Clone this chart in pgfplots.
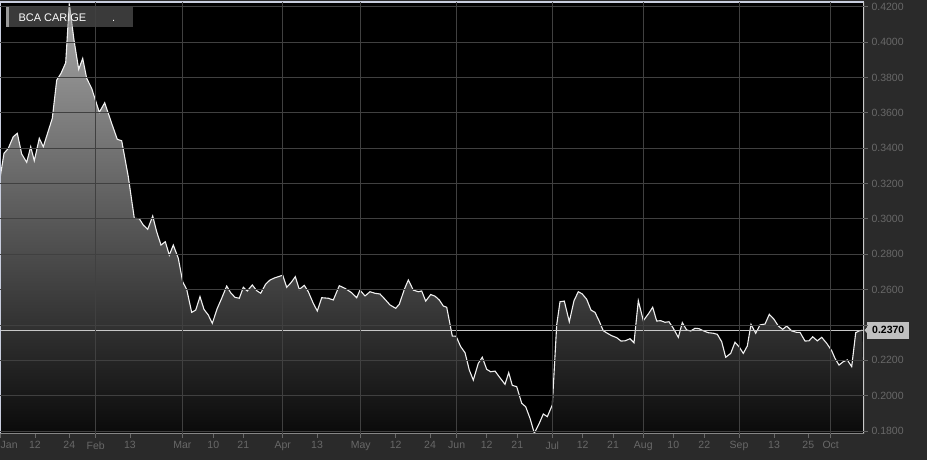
\documentclass[border=0pt]{standalone}
\usepackage{pgfplots}
\pgfplotsset{compat=1.18}
\usepackage{pgfplotstable}
\usepgfplotslibrary{fillbetween}
\usepackage{fontspec}
\setmainfont{Liberation Sans}
\definecolor{bgc}{RGB}{42,42,42}
\definecolor{gridc}{RGB}{64,64,64}
\definecolor{tickc}{RGB}{104,104,104}
\definecolor{borderc}{RGB}{200,205,222}
\definecolor{filltop}{RGB}{168,168,168}
\definecolor{fillbot}{RGB}{10,10,10}
\definecolor{refc}{RGB}{200,200,200}
\definecolor{labc}{RGB}{192,192,192}
\definecolor{legc}{RGB}{130,130,130}
\pagecolor{bgc}

\pgfplotstableread{
x y
0 0.3229
4 0.3371
8.3 0.3399
13.3 0.3465
17.3 0.3484
21.7 0.3367
26.7 0.3320
30.7 0.3408
34.3 0.3329
39.3 0.3456
43.3 0.3408
52.3 0.3569
56.7 0.3785
61 0.3823
65.7 0.3883
69.3 0.4219
74 0.4011
78.7 0.3846
82.7 0.3908
86.7 0.3795
91.7 0.3738
99.3 0.3603
104.7 0.3657
111.7 0.3540
117.3 0.3450
121.7 0.3442
128.3 0.3238
134.3 0.3003
139.3 0.3001
143.3 0.2965
147.7 0.2941
152.7 0.3016
156.7 0.2927
161 0.2852
165.3 0.2871
169.3 0.2795
173.3 0.2852
178.3 0.2777
182.7 0.2644
186.7 0.2601
191.7 0.2471
195.7 0.2484
200 0.2560
204 0.2488
208.3 0.2456
212.3 0.2409
217.3 0.2494
221.7 0.2551
226.7 0.2620
230.7 0.2582
235 0.2556
239.3 0.2551
243.3 0.2613
247.3 0.2592
252.3 0.2626
256.7 0.2594
260.7 0.2579
265.7 0.2631
270 0.2654
275 0.2667
282.7 0.2681
286.7 0.2613
291 0.2639
295.3 0.2673
299.3 0.2601
304.3 0.2624
308.3 0.2588
313.3 0.2522
317.3 0.2479
321.7 0.2554
328.3 0.2551
333.3 0.2541
339.3 0.2622
345 0.2607
351.7 0.2582
356.7 0.2554
360 0.2597
365 0.2564
370 0.2588
375 0.2579
380 0.2575
385 0.2545
390 0.2513
395.7 0.2494
399.3 0.2517
404.3 0.2601
408.3 0.2654
413.3 0.2597
418.3 0.2588
421.7 0.2592
425.7 0.2535
430.7 0.2572
435 0.2563
439.3 0.2541
443.3 0.2507
446.7 0.2500
452.3 0.2337
456 0.2337
460.7 0.2277
465 0.2243
469.3 0.2145
473.3 0.2088
478.3 0.2183
482.3 0.2217
486.7 0.2149
490.7 0.2135
495 0.2139
500 0.2101
505 0.2064
508.7 0.2130
512.3 0.2058
516.7 0.2051
521.7 0.1957
525.7 0.1937
530 0.1872
534.3 0.1787
539 0.1840
543.3 0.1896
547.3 0.1881
552.3 0.1947
556.7 0.2400
560 0.2531
564.3 0.2535
569.3 0.2418
574 0.2537
578.3 0.2588
582.3 0.2575
586.7 0.2545
591 0.2484
595 0.2471
599 0.2424
603.3 0.2367
607.3 0.2353
611.7 0.2339
616.7 0.2328
621 0.2309
625 0.2310
630 0.2322
634 0.2299
638.3 0.2537
643.3 0.2424
648.3 0.2462
652.7 0.2500
656.7 0.2422
660.7 0.2424
665 0.2415
669 0.2418
673.3 0.2381
678.3 0.2330
682.3 0.2413
686.7 0.2371
690.7 0.2366
695 0.2381
699 0.2379
703.3 0.2367
708.3 0.2356
713.3 0.2353
717.3 0.2347
721.7 0.2305
725.7 0.2217
730.7 0.2239
735 0.2302
739 0.2277
743.3 0.2239
747.3 0.2281
751 0.2403
755.7 0.2353
760 0.2400
765 0.2405
769.3 0.2460
774 0.2432
778.3 0.2394
782.7 0.2375
786.7 0.2394
791.7 0.2366
796.7 0.2358
800 0.2358
805 0.2309
809 0.2310
812.7 0.2333
817.3 0.2310
821.7 0.2330
826.7 0.2296
831.7 0.2254
835 0.2211
839 0.2173
843.3 0.2192
847.3 0.2202
851.7 0.2164
855.7 0.2356
859 0.2366
862.3 0.2370
}\price

\begin{document}
\begin{tikzpicture}
\path (0pt,0pt) rectangle (927pt,460pt);
\begin{axis}[
  at={(0pt,26pt)}, anchor=south west,
  scale only axis, width=864pt, height=432pt,
  xmin=0, xmax=864, ymin=0.1783, ymax=0.4227,
  axis background/.style={fill=black},
  axis line style={draw=none},
  axis on top,
  tick align=outside,
  major tick length=4pt,
  tick style={tickc, line width=0.8pt},
  xtick pos=bottom,
  ytick pos=right,
  yticklabel pos=right,
  tick label style={font=\fontsize{10.5}{12}\selectfont, text=tickc},
  /pgf/number format/assume math mode=true,
  ytick={0.18,0.20,0.22,0.24,0.26,0.28,0.30,0.32,0.34,0.36,0.38,0.40,0.42},
  yticklabels={0.1800,0.2000,0.2200,{},0.2600,0.2800,0.3000,0.3200,0.3400,0.3600,0.3800,0.4000,0.4200},
  ymajorgrids=true,
  grid style={gridc, line width=0.8pt},
  xtick={0.7,35,69.3,95.7,130,182.3,213.3,243.3,282.7,317,360.7,395.7,430,456.7,486.7,517.3,552.3,582.7,613,643.3,673.3,704.3,739,774,808.3,830.7},
  xticklabels={\makebox[0pt][l]{Jan},12,24,Feb,13,Mar,10,21,Apr,13,May,12,24,Jun,12,21,Jul,12,21,Aug,10,22,Sep,13,25,Oct},
  extra x ticks={95.7,182.3,282.7,360.7,456.7,552.3,643.3,739,830.7},
  extra x tick labels={},
  extra x tick style={grid=major, major tick length=0pt},
]
\addplot[name path=price, draw=none] table {\price};
\path[name path=base] (axis cs:0,0.1783) -- (axis cs:864,0.1783);
\addplot[top color=filltop, bottom color=fillbot, draw=none] fill between[of=price and base];
\addplot[color=white!94!black, line width=1.1pt] table {\price};
\addplot[color=refc, line width=1pt] coordinates {(0,0.237) (864,0.237)};
\draw[borderc, line width=1pt] (axis cs:0,0.42) -- (axis cs:864,0.42);
\draw[borderc, line width=1.2pt] (rel axis cs:0,0) -- (rel axis cs:0,1) -- (rel axis cs:1,1);
\draw[refc, line width=1.2pt] (rel axis cs:1,1) -- (rel axis cs:1,0);
\draw[tickc!80!white, line width=1pt] (rel axis cs:0,0) -- (rel axis cs:1,0);
\coordinate (lv) at (axis cs:864,0.237);
\end{axis}
% legend box
\fill[legc, opacity=0.45] (6pt,432.7pt) rectangle (132.7pt,454.3pt);
\fill[white!60!black] (6pt,432.7pt) rectangle (8.7pt,454.3pt);
\node[anchor=base west, inner sep=0pt, text=white, font=\fontsize{11}{13}\selectfont] at (18.3pt,438.9pt) {BCA CARIGE};
\node[anchor=base west, inner sep=0pt, text=white, font=\fontsize{11}{13}\selectfont] at (112pt,438.9pt) {.};
% last value label
\fill[labc] ([xshift=0.5pt]lv) -- ++(3.5pt,4pt) -- ++(0pt,-8pt) -- cycle;
\node[anchor=west, fill=labc, text=black, font=\bfseries\fontsize{10.5}{12}\selectfont, inner xsep=5pt, inner ysep=0pt, minimum height=16.6pt] at ([xshift=3pt]lv) {0.2370};
\pgfresetboundingbox
\useasboundingbox (0pt,0pt) rectangle (927pt,460pt);
\end{tikzpicture}
\end{document}
